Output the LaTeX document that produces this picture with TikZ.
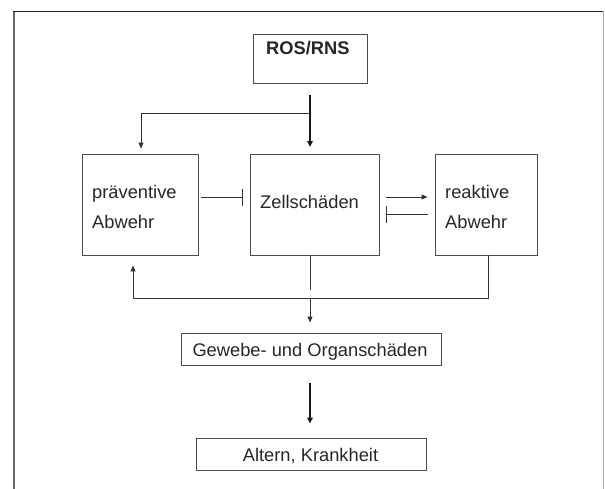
\documentclass[tikz,border=0pt]{standalone}
\usepackage{fontspec}
\setmainfont{Liberation Sans}
\usetikzlibrary{arrows.meta}
\begin{document}
\begin{tikzpicture}[x=1pt,y=-1pt,
  box/.style={draw=black!70, line width=0.9pt, inner sep=0pt},
  lbl/.style={inner sep=0pt, text=black!85, font=\fontsize{18.3}{22}\selectfont},
  conn/.style={draw=black!80, line width=0.9pt},
  arr/.style={conn, -{Triangle[length=6pt,width=5pt]}},
  thickarr/.style={draw=black!90, line width=1.7pt, -{Triangle[length=6pt,width=5.5pt]}},
  inh/.style={conn, -{Bar[width=17pt,line width=0.9pt]}}
]
\useasboundingbox (0,0) rectangle (605,488);
% outer frame
\draw[black!60, line width=2pt] (14,11) -- (14,490);
\draw[black!85, line width=1.2pt] (13,11.5) -- (604,11.5);
\draw[black!30, line width=1.3pt] (603.5,11) -- (603.5,490);

% boxes
\node[box, minimum width=114pt, minimum height=49pt] (ros) at (310,58.5) {};
\node[box, minimum width=116pt, minimum height=101pt] (prev) at (140,204.5) {};
\node[box, minimum width=129pt, minimum height=101pt] (zell) at (314.5,204.5) {};
\node[box, minimum width=102pt, minimum height=101pt] (reak) at (486,204.5) {};
\node[box, minimum width=260pt, minimum height=32pt] (gew) at (311,349) {};
\node[box, minimum width=230pt, minimum height=32pt] (alt) at (311,454) {};

% texts
\node[lbl, anchor=base west, font=\fontsize{18.3}{22}\selectfont\bfseries] (tros) at (266,54) {ROS/RNS};
\node[lbl, anchor=base west] (tprev1) at (92,198) {präventive};
\node[lbl, anchor=base west] (tprev2) at (92,228) {Abwehr};
\node[lbl, anchor=base west] (tzell) at (260,208) {Zellschäden};
\node[lbl, anchor=base west] (treak1) at (445,198) {reaktive};
\node[lbl, anchor=base west] (treak2) at (445,228) {Abwehr};
\node[lbl, anchor=base] (tgew) at (310,356.5) {Gewebe- und Organschäden};
\node[lbl, anchor=base] (talt) at (310.5,461) {Altern, Krankheit};

% connectors
\coordinate (rtop) at (310,95);
\coordinate (br) at (310,113);
\coordinate (zin) at (310,154);
\draw[thickarr, shorten >=7pt] (rtop) -- (zin);
\draw[arr, shorten >=5pt] (br) -| ([xshift=1pt]prev.north);

\draw[inh] ([xshift=3pt,yshift=7.5pt]prev.east) -- ([xshift=-7pt,yshift=7.5pt]zell.west);
\draw[arr] ([xshift=7pt,yshift=7.5pt]zell.east) -- ([xshift=-7pt,yshift=7.5pt]reak.west);
\draw[inh] ([xshift=-7pt,yshift=-9.5pt]reak.west) -- ([xshift=7pt,yshift=-9.5pt]zell.east);

\coordinate (zout) at (310,255);
\coordinate (zend) at (310,290);
\draw[conn] (zout) -- (zend);
\coordinate (loopL) at (133,298);
\coordinate (loopR) at (488,298);
\draw[conn] ([xshift=2pt]reak.south) -- (loopR) -- (loopL);
\draw[arr] (loopL) -- ([xshift=-7pt,yshift=-10pt]prev.south);
\coordinate (gin) at (310,298);
\draw[arr, shorten >=10pt] (gin) -- ([xshift=-1pt]gew.north);
\draw[thickarr, shorten >=14pt] ([xshift=-1pt,yshift=-18pt]gew.south) -- ([xshift=-1pt]alt.north);
\end{tikzpicture}
\end{document}
